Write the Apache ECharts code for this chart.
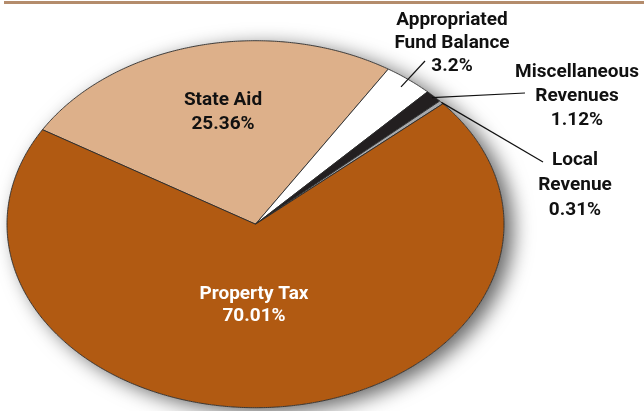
<!DOCTYPE html>
<html>
<head>
<meta charset="utf-8">
<script src="https://cdn.jsdelivr.net/npm/echarts@6/dist/echarts.min.js"></script>
<style>
html,body{margin:0;padding:0;background:#fff;}
#main{width:644px;height:411px;}
</style>
</head>
<body>
<div id="main"></div>
<script>
// ---- data ----
const categories = ['State Aid', 'Appropriated\nFund Balance', 'Miscellaneous\nRevenues', 'Local\nRevenue', 'Property Tax'];
const values = [25.36, 3.2, 1.12, 0.31, 70.01];
const colors = ['#DDB08A', '#FFFFFF', '#231F20', '#A7A9AC', '#B15A12'];

// ---- layout / style (not data) ----
const pieLayout = { cx: 255.5, cy: 224.2, rx: 248.5, ry: 183.5, startAngle: 149 };
const labelStyle = [
  { x: 223, y: 112, lh: 24, color: '#111' },
  { x: 452, y: 43, lh: 23, color: '#111', leader: { f: 0.95, ex: 425, ey: 61 } },
  { x: 577, y: 96, lh: 24, color: '#111', leader: { f: 0.99, ex: 525, ey: 93 } },
  { x: 575, y: 185, lh: 25, color: '#111', leader: { f: 1.0, ex: 543, ey: 162 } },
  { x: 254, y: 305, lh: 22, color: '#fff' }
];

const total = values.reduce((a, b) => a + b, 0);

function ellPt(angDeg, f) {
  const a = angDeg * Math.PI / 180;
  return [pieLayout.cx + pieLayout.rx * f * Math.cos(a), pieLayout.cy - pieLayout.ry * f * Math.sin(a)];
}

function renderItem(params, api) {
  const i = params.dataIndex;
  let before = 0;
  for (let k = 0; k < i; k++) before += values[k];
  const v = api.value(1);
  const a0 = pieLayout.startAngle - before / total * 360;
  const a1 = a0 - v / total * 360;
  const pts = [[pieLayout.cx, pieLayout.cy]];
  const n = Math.max(4, Math.ceil(Math.abs(a0 - a1) / 0.5));
  for (let s = 0; s <= n; s++) {
    pts.push(ellPt(a0 + (a1 - a0) * s / n, 1));
  }
  const children = [];
  if (i === 0) {
    const full = [];
    for (let s = 0; s < 720; s++) full.push(ellPt(s / 2, 1));
    children.push({
      type: 'polygon', shape: { points: full }, z2: 0,
      style: { fill: '#fff', shadowBlur: 20, shadowOffsetX: 9, shadowOffsetY: 5, shadowColor: 'rgba(0,0,0,0.6)' }
    });
  }
  children.push({
    type: 'polygon', shape: { points: pts }, z2: 1,
    style: { fill: colors[i], stroke: '#2b2b2b', lineWidth: 0.9, lineJoin: 'round' }
  });
  const ls = labelStyle[i];
  if (ls.leader) {
    const mid = (a0 + a1) / 2;
    const p = ellPt(mid, ls.leader.f);
    children.push({
      type: 'line', z2: 5,
      shape: { x1: p[0], y1: p[1], x2: ls.leader.ex, y2: ls.leader.ey },
      style: { stroke: '#111', lineWidth: 1.2 }
    });
  }
  children.push({
    type: 'text', z2: 10,
    style: {
      x: ls.x, y: ls.y,
      text: categories[i] + '\n' + values[i] + '%',
      fill: ls.color,
      font: 'bold 19px Roboto',
      align: 'center', verticalAlign: 'middle',
      textAlign: 'center', textVerticalAlign: 'middle',
      lineHeight: ls.lh
    }
  });
  return { type: 'group', children: children };
}

const chart = echarts.init(document.getElementById('main'), null, { renderer: 'canvas' });
chart.setOption({
  animation: false,
  backgroundColor: '#fff',
  graphic: [{
    type: 'rect', shape: { x: 4, y: 1, width: 640, height: 3 },
    style: { fill: '#B48C6C' }
  }],
  series: [{
    type: 'custom',
    coordinateSystem: 'none',
    renderItem: renderItem,
    data: values.map((v, i) => [i, v])
  }]
});
</script>
</body>
</html>
